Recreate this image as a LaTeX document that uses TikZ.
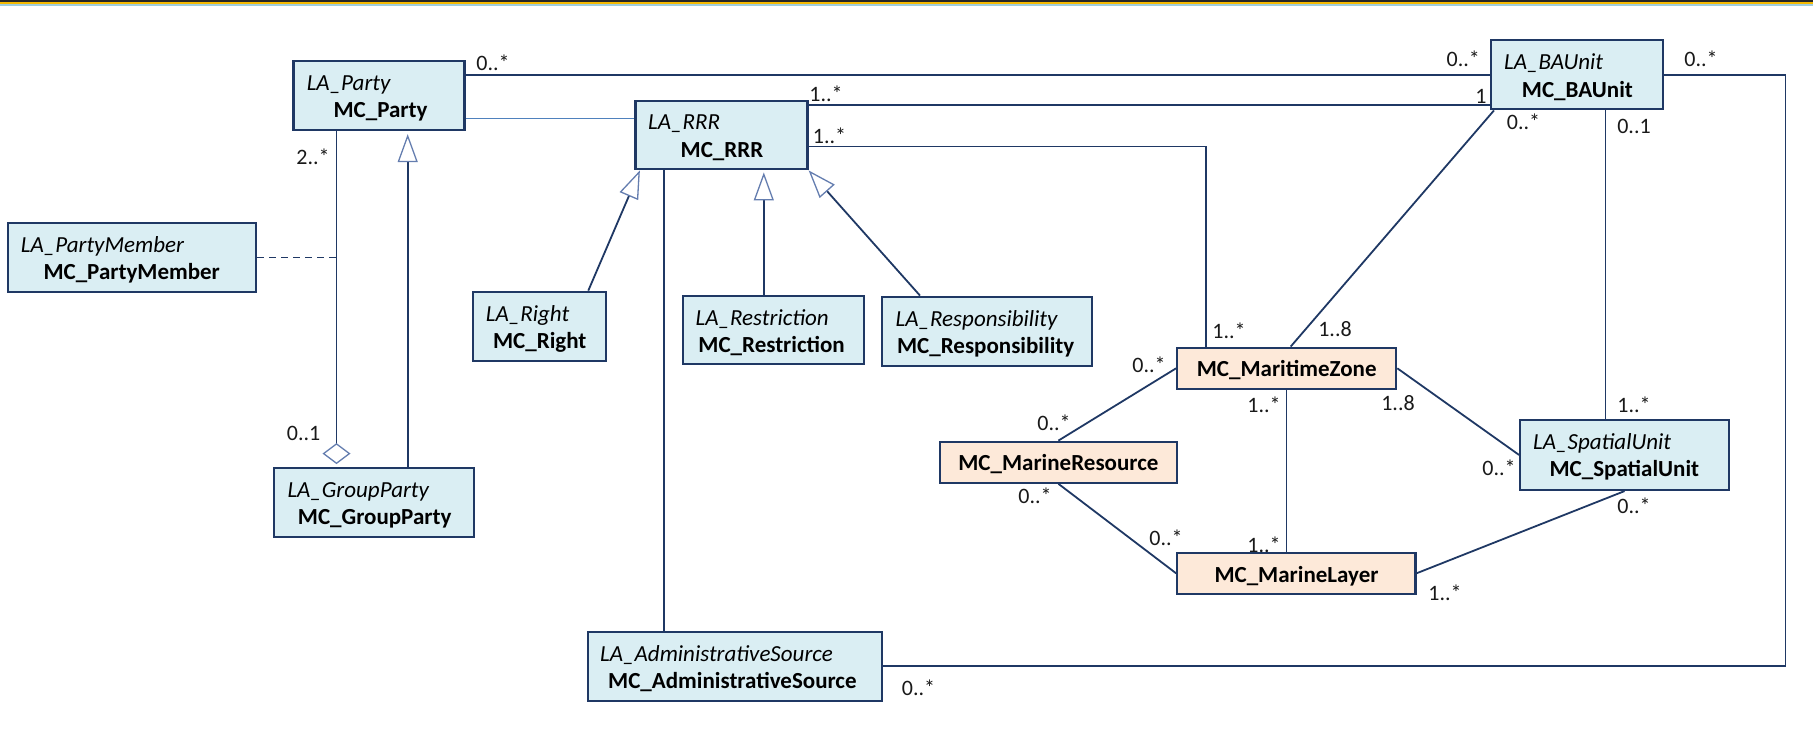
\documentclass[tikz,border=0pt]{standalone}
\usepackage{fontspec}
\setmainfont{Carlito}
\usetikzlibrary{arrows.meta,calc}
\definecolor{navy}{RGB}{31,56,100}
\definecolor{boxblue}{RGB}{218,238,243}
\definecolor{boxorange}{RGB}{253,233,217}
\definecolor{tipc}{RGB}{100,125,175}
\definecolor{assoc}{RGB}{79,129,189}
\definecolor{gold}{RGB}{245,185,0}
\definecolor{bandblue}{RGB}{160,205,220}
\begin{document}
\begin{tikzpicture}[x=1pt,y=-1pt,
  box/.style={draw=navy, line width=2.2pt, fill=boxblue, inner sep=0pt},
  obox/.style={box, fill=boxorange},
  conn/.style={draw=navy, line width=1.8pt},
  gen/.style={conn, -{Triangle[open, length=28pt, width=20pt, color=tipc, fill=white, line width=1.3pt]}},
  mult/.style={font=\fontsize{22}{22}\selectfont, anchor=base, inner sep=0pt, text=black!90},
  itl/.style={font=\fontsize{23}{23}\selectfont\itshape, anchor=base west, inner sep=0pt},
  bld/.style={font=\fontsize{23}{23}\selectfont\bfseries, anchor=base west, inner sep=0pt},
  bldc/.style={font=\fontsize{23}{23}\selectfont\bfseries, anchor=base, inner sep=0pt}]
\useasboundingbox (0,0) rectangle (1813,745);
% top band
\fill[black!85] (0,0) rectangle (1813,1.6);
\fill[gold] (0,1.6) rectangle (1813,3.7);
\fill[bandblue] (0,3.7) rectangle (1813,6.3);
% boxes
\node[box, minimum width=171pt, minimum height=69pt] (party) at (379,95.5) {};
\node[box, minimum width=172pt, minimum height=68.6pt] (rrr) at (721.5,135) {};
\node[box, minimum width=171.7pt, minimum height=69.3pt] (ba) at (1576.9,74.7) {};
\node[box, minimum width=248.3pt, minimum height=69.6pt] (pm) at (131.9,257.5) {};
\node[box, minimum width=133pt, minimum height=69pt] (right) at (539.3,326.2) {};
\node[box, minimum width=181.7pt, minimum height=68.6pt] (restr) at (773.5,330) {};
\node[box, minimum width=210pt, minimum height=69pt] (resp) at (987,331.2) {};
\node[obox, minimum width=219pt, minimum height=41.3pt] (mz) at (1286.7,368.3) {};
\node[obox, minimum width=237.6pt, minimum height=41pt] (mr) at (1058.4,462.2) {};
\node[obox, minimum width=238.2pt, minimum height=41.3pt] (ml) at (1296.3,573.3) {};
\node[box, minimum width=208.5pt, minimum height=70pt] (su) at (1624.5,455) {};
\node[box, minimum width=200pt, minimum height=69pt] (gp) at (374,502.2) {};
\node[box, minimum width=294pt, minimum height=69.3pt] (as) at (734.9,666.3) {};
% box texts
\node[itl] (partyI) at (306.6,90.5) {LA\_Party};
\node[bld] (partyB) at (333.4,117.5) {MC\_Party};
\node[itl] (rrrI) at (648,129.5) {LA\_RRR};
\node[bld] (rrrB) at (680.5,157.3) {MC\_RRR};
\node[itl] (baI) at (1504,69.3) {LA\_BAUnit};
\node[bld] (baB) at (1521.7,97) {MC\_BAUnit};
\node[itl] (pmI) at (20.7,252.3) {LA\_PartyMember};
\node[bld] (pmB) at (43.3,279.2) {MC\_PartyMember};
\node[itl] (rightI) at (485.7,321.2) {LA\_Right};
\node[bld] (rightB) at (492.9,348.2) {MC\_Right};
\node[itl] (restrI) at (695.5,325.2) {LA\_Restriction};
\node[bld] (restrB) at (698.2,352.2) {MC\_Restriction};
\node[itl] (respI) at (895.5,326.2) {LA\_Responsibility};
\node[bld] (respB) at (896.9,353.2) {MC\_Responsibility};
\node[bldc] (mzB) at (1286.7,376.5) {MC\_MaritimeZone};
\node[bldc] (mrB) at (1058.4,470) {MC\_MarineResource};
\node[bldc] (mlB) at (1296.5,582) {MC\_MarineLayer};
\node[itl] (suI) at (1533,449.5) {LA\_SpatialUnit};
\node[bld] (suB) at (1549.4,476.5) {MC\_SpatialUnit};
\node[itl] (gpI) at (287.3,497.2) {LA\_GroupParty};
\node[bld] (gpB) at (297.7,524.2) {MC\_GroupParty};
\node[itl] (asI) at (600,661.2) {LA\_AdministrativeSource};
\node[bld] (asB) at (608,688.2) {MC\_AdministrativeSource};
% connectors
\draw[conn] (party.east |- 0,75) -- (ba.west |- 0,75);
\draw[draw=assoc, line width=1.4pt] (party.east |- 0,118.3) -- (rrr.west |- 0,118.3);
\draw[conn] (rrr.east |- 0,105) -- (ba.west |- 0,105);
\draw[conn] (rrr.east |- 0,146.5) -| (1206,0 |- mz.north);
\draw[conn] ([xshift=4pt]ba.south west) -- ([xshift=4pt]mz.north);
\draw[conn] (1605.5,0 |- ba.south) -- (1605.5,0 |- su.north);
\coordinate (asbend) at (1785.5,666.3);
\draw[conn] (ba.east |- 0,75) -| (asbend) -- (as.east);
\draw[conn] (664,0 |- rrr.south) -- (664,0 |- as.north);
\draw[conn, -{Diamond[open, length=21pt, width=28pt, color=tipc, fill=white, line width=1.3pt]}, shorten >=2.5pt] (336.5,0 |- party.south) -- (336.5,0 |- gp.north);
\coordinate (pmj) at (336.5,257.5);
\draw[conn, dash pattern=on 7pt off 5pt] (pm.east) -- (pmj);
\draw[gen, shorten >=3pt] (407.7,0 |- gp.north) -- (407.7,0 |- party.south);
\draw[gen] ([xshift=49pt]right.north) -- ([xshift=5.5pt]rrr.south west);
\draw[gen, shorten >=2pt] (763.8,0 |- restr.north) -- (763.8,0 |- rrr.south);
\draw[gen] ([xshift=-67pt]resp.north) -- (rrr.south east);
\draw[conn] (mz.west) -- (mr.north);
\draw[conn] (mr.south) -- (ml.west);
\draw[conn] (1286.5,0 |- mz.south) -- (1286.5,0 |- ml.north);
\draw[conn] (mz.east) -- (su.west);
\draw[conn] (su.south) -- (ml.east);
% multiplicities
\node[mult] at (493,70.3) {0..*};
\node[mult] at (1463.3,66.2) {0..*};
\node[mult] at (826,101) {1..*};
\node[mult] at (1481,103) {1};
\node[mult] at (829.5,143.5) {1..*};
\node[mult] at (1229,338.5) {1..*};
\node[mult] at (1523.5,129.5) {0..*};
\node[mult] at (1335,336) {1..8};
\node[mult] at (1634,133.5) {0..1};
\node[mult] at (1701,66) {0..*};
\node[mult] at (918.5,695) {0..*};
\node[mult] at (313,164.5) {2..*};
\node[mult] at (303.7,440) {0..1};
\node[mult] at (1149,372) {0..*};
\node[mult] at (1264,412) {1..*};
\node[mult] at (1398,410) {1..8};
\node[mult] at (1054,430) {0..*};
\node[mult] at (1634,412) {1..*};
\node[mult] at (1499,475) {0..*};
\node[mult] at (1035,503) {0..*};
\node[mult] at (1166,545) {0..*};
\node[mult] at (1264,552) {1..*};
\node[mult] at (1634,513) {0..*};
\node[mult] at (1445,600) {1..*};
\end{tikzpicture}
\end{document}
